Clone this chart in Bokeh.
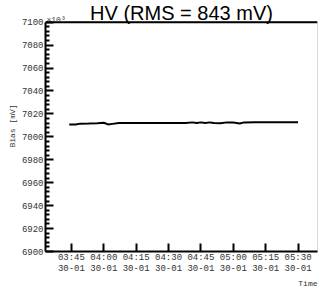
from bokeh.plotting import figure
from bokeh.models import Label, FixedTicker, Range1d, BoxAnnotation, Title, Span
from bokeh.embed import file_html
from bokeh.resources import INLINE

# ---- data ----
times = ["03:44", "03:47", "03:49", "03:53", "03:57", "04:00", "04:02", "04:04",
         "04:07", "04:15", "04:25", "04:38", "04:41", "04:43", "04:45", "04:47",
         "04:49", "04:51", "04:54", "04:57", "05:00", "05:03", "05:05", "05:10",
         "05:20", "05:30"]
bias = [7010.8, 7010.8, 7011.5, 7011.6, 7011.8, 7012.3, 7010.8, 7011.3,
        7012.0, 7012.0, 7012.0, 7012.0, 7012.6, 7012.0, 7012.6, 7012.0,
        7012.6, 7012.0, 7011.9, 7012.6, 7012.4, 7011.7, 7012.6, 7012.7,
        7012.8, 7012.8]
tick_times = ["03:45", "04:00", "04:15", "04:30", "04:45", "05:00", "05:15", "05:30"]
tick_date = "30-01"
y_ticks = [6900, 6920, 6940, 6960, 6980, 7000, 7020, 7040, 7060, 7080, 7100]
title_text = "HV (RMS = 843 mV)"
y_title = "Bias [mV]"
x_title = "Time"
exp_text = "\u00d710\u00b3"


def to_min(t):
    h, m = t.split(":")
    return int(h) * 60 + int(m)


W, H = 319, 287
BL, BR, BT, BB = 45, 2, 0, 32

xs = [to_min(t) for t in times]
tick_x = [to_min(t) for t in tick_times]
x0, x1 = to_min("03:33"), to_min("05:39")
y0, y1 = y_ticks[0], y_ticks[-1]
y_top = y1 + (y1 - y0) * 22.0 / 233.0   # room above the frame box for the title
minor_y = [v for v in range(y0, y1 + 1, 4) if v not in y_ticks]

p = figure(width=W, height=H, output_backend="svg", toolbar_location=None,
           x_range=Range1d(x0, x1), y_range=Range1d(y0, y_top),
           min_border_left=BL, min_border_right=BR, min_border_top=BT,
           min_border_bottom=BB)
p.title.visible = False
p.background_fill_color = "white"
p.border_fill_color = "white"
p.outline_line_color = None
p.grid.visible = False

# frame box
p.add_layout(BoxAnnotation(left=x0, right=x1, bottom=y0, top=y1,
                           fill_color=None, line_color="black", line_width=1))
p.add_layout(Span(location=y1, dimension="width", line_color="black", line_width=2))

p.line(xs, bias, line_color="black", line_width=2)

mono = "Liberation Mono"
lab_col = "#333333"
# x axis
xa = p.xaxis[0]
xa.ticker = FixedTicker(ticks=tick_x)
xa.major_label_overrides = {tx: f"{t}\n{tick_date}" for tx, t in zip(tick_x, tick_times)}
xa.major_tick_in = 8
xa.major_tick_out = 0
xa.major_tick_line_color = "black"
xa.major_tick_line_width = 2
xa.minor_tick_line_color = None
xa.axis_line_width = 2
xa.major_label_text_font = mono
xa.major_label_text_font_size = "9px"
xa.major_label_text_line_height = 1.1
xa.major_label_text_color = lab_col
xa.major_label_standoff = 1

# y axis
ya = p.yaxis[0]
ya.ticker = FixedTicker(ticks=y_ticks, minor_ticks=minor_y)
ya.bounds = (y0, y1)
ya.major_tick_in = 8
ya.major_tick_out = 0
ya.major_tick_line_color = "black"
ya.major_tick_line_width = 2
ya.minor_tick_in = 4
ya.minor_tick_out = 0
ya.minor_tick_line_color = "black"
ya.minor_tick_line_width = 2
ya.axis_line_width = 2
ya.major_label_text_font = mono
ya.major_label_text_font_size = "9px"
ya.major_label_text_color = lab_col
ya.major_label_standoff = 2
ya.axis_label = y_title
ya.axis_label_text_font = mono
ya.axis_label_text_font_size = "8px"
ya.axis_label_text_font_style = "normal"
ya.axis_label_text_color = lab_col
ya.axis_label_standoff = 2

p.add_layout(Label(x=(x0 + x1) / 2, y=y1, y_offset=9, text=title_text,
                   text_align="center", text_baseline="alphabetic",
                   text_font="Liberation Sans", text_font_size="20px",
                   text_color="black"))
p.add_layout(Label(x=x0, y=y1, x_offset=1, y_offset=3, text=exp_text,
                   text_align="left", text_baseline="alphabetic",
                   text_font=mono, text_font_size="8px", text_color=lab_col))
p.add_layout(Title(text=x_title, align="right", text_font=mono,
                   text_font_size="8px", text_font_style="normal",
                   text_color=lab_col, standoff=0), "below")

open("out.html", "w").write(file_html(p, INLINE))
